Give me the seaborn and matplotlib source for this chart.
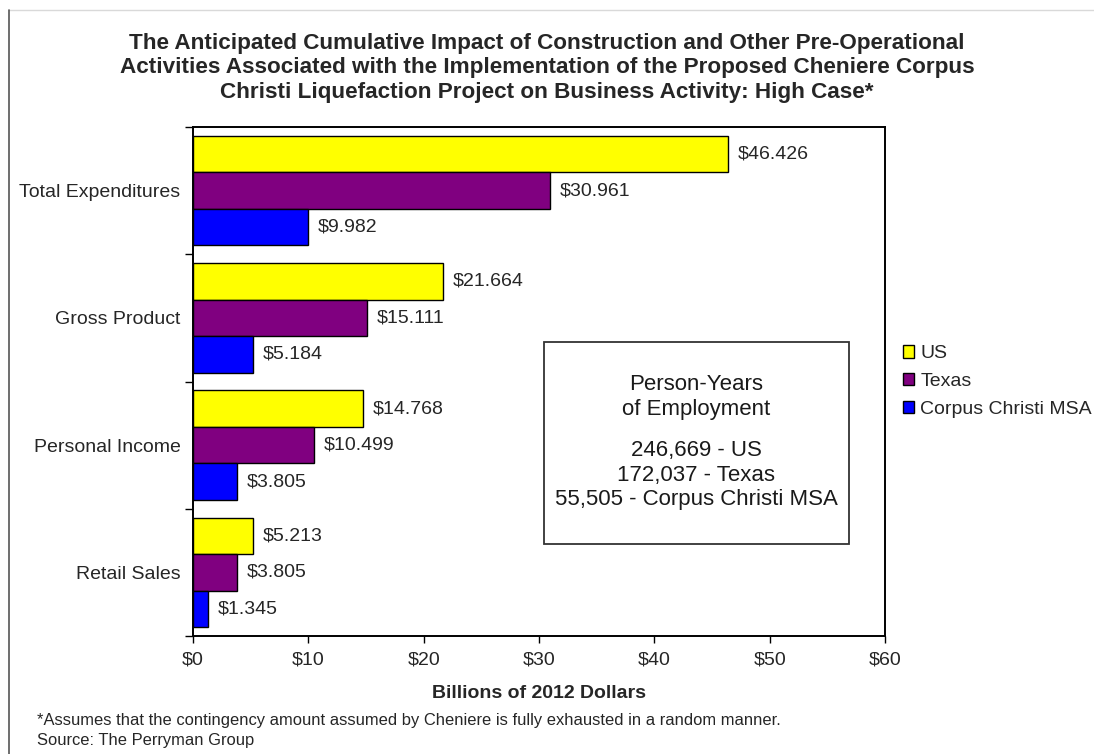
"""Cheniere Corpus Christi high case business activity chart."""
import matplotlib

matplotlib.use("Agg")
import matplotlib.pyplot as plt
import pandas as pd
import seaborn as sns
from matplotlib.lines import Line2D
from matplotlib.patches import Rectangle

categories = ["Total Expenditures", "Gross Product", "Personal Income", "Retail Sales"]
regions = ["US", "Texas", "Corpus Christi MSA"]
us_values = [46.426, 21.664, 14.768, 5.213]
texas_values = [30.961, 15.111, 10.499, 3.805]
cc_values = [9.982, 5.184, 3.805, 1.345]
region_colors = ["#FFFF00", "#800080", "#0000FF"]
x_ticks = [0, 10, 20, 30, 40, 50, 60]

employment_lines = ["246,669 - US", "172,037 - Texas", "55,505 - Corpus Christi MSA"]

df = pd.DataFrame(
    {
        "category": categories * 3,
        "region": [r for r in regions for _ in categories],
        "value": us_values + texas_values + cc_values,
    }
)

sns.set_style("white")
plt.rcParams["font.family"] = ["Liberation Sans", "DejaVu Sans"]

fig = plt.figure(figsize=(10.94, 7.54), dpi=100)
ax = fig.add_axes([0.1764, 0.1565, 0.6325, 0.675])

sns.barplot(
    data=df,
    x="value",
    y="category",
    hue="region",
    hue_order=regions,
    order=categories,
    palette=region_colors,
    orient="h",
    width=0.86,
    edgecolor="black",
    linewidth=1,
    saturation=1,
    ax=ax,
)

# Value labels at the end of every bar
for container in ax.containers:
    ax.bar_label(
        container,
        labels=[f"${v:.3f}" for v in container.datavalues],
        padding=7,
        fontsize=14,
    )

ax.set_xlim(0, 60)
ax.set_ylim(3.5, -0.5)
ax.set_xticks(x_ticks)
ax.set_xticklabels([f"${t}" for t in x_ticks], fontsize=14)
ax.tick_params(axis="x", direction="out", length=5, width=1, color="black", bottom=True, pad=6)
ax.tick_params(axis="y", which="major", length=0, pad=9, labelsize=14)
ax.set_yticks([-0.5, 0.5, 1.5, 2.5, 3.5], minor=True)
ax.tick_params(axis="y", which="minor", direction="out", length=6, width=1, color="black", left=True)
ax.set_ylabel("")
ax.set_xlabel("Billions of 2012 Dollars", fontsize=14, fontweight="bold", labelpad=12)
for spine in ax.spines.values():
    spine.set_visible(True)
    spine.set_color("black")
    spine.set_linewidth(1.4)

# Legend to the right of the plot area
handles, labels = ax.get_legend_handles_labels()
ax.legend(
    handles,
    labels,
    loc="center left",
    bbox_to_anchor=(0.818, 0.494),
    bbox_transform=fig.transFigure,
    frameon=False,
    fontsize=14,
    handlelength=0.6,
    handleheight=0.6,
    handletextpad=0.3,
    labelspacing=0.55,
    borderaxespad=0,
)

# Employment box
box = Rectangle(
    (0.4973, 1 - 544 / 754),
    (849 - 544) / 1094,
    (544 - 342) / 754,
    transform=fig.transFigure,
    facecolor="white",
    edgecolor="#333333",
    linewidth=1.3,
    zorder=5,
)
fig.add_artist(box)
box_x = (544 + 849) / 2 / 1094
fig.text(box_x, 1 - 397 / 754, "Person-Years\nof Employment", ha="center", va="center",
         fontsize=16, linespacing=1.22, color="#1a1a1a", zorder=6)
fig.text(box_x, 1 - 475 / 754, "\n".join(employment_lines), ha="center", va="center",
         fontsize=16, linespacing=1.22, color="#1a1a1a", zorder=6)

fig.text(
    0.5,
    1 - 68 / 754,
    "The Anticipated Cumulative Impact of Construction and Other Pre-Operational\n"
    "Activities Associated with the Implementation of the Proposed Cheniere Corpus\n"
    "Christi Liquefaction Project on Business Activity: High Case*",
    ha="center",
    va="center",
    fontsize=16.2,
    fontweight="bold",
    linespacing=1.2,
)

fig.text(37 / 1094, 1 - 720 / 754,
         "*Assumes that the contingency amount assumed by Cheniere is fully exhausted in a random manner.",
         ha="left", va="center", fontsize=11.9)
fig.text(37 / 1094, 1 - 740 / 754, "Source: The Perryman Group", ha="left", va="center", fontsize=11.9)

# Screenshot frame lines
fig.add_artist(Line2D([9 / 1094, 1], [1 - 10 / 754, 1 - 10 / 754], transform=fig.transFigure,
                      color="#d9d9d9", linewidth=1))
fig.add_artist(Line2D([9 / 1094, 9 / 1094], [0, 1 - 10 / 754], transform=fig.transFigure,
                      color="#555555", linewidth=1.2))

fig.savefig("out.png", dpi=100)
